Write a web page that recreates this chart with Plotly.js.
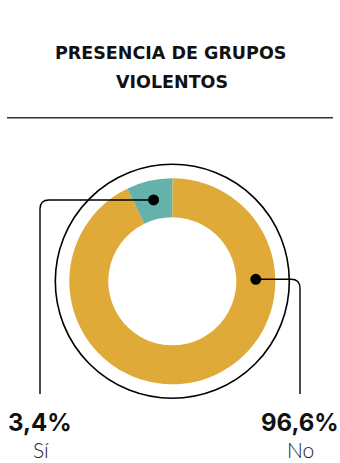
<!DOCTYPE html>
<html>
<head>
<meta charset="utf-8">
<script src="https://cdn.plot.ly/plotly-3.0.1.min.js"></script>
<style>
html,body{margin:0;padding:0;background:#fff;}
#chart{width:340px;height:463px;}
</style>
</head>
<body>
<div id="chart"></div>
<script>
// ---- data ----
const categories = ['Sí', 'No'];
const pctLabels = ['3,4%', '96,6%'];
const sliceShares = [7.2, 92.8];   // slice sizes as drawn in the picture
const sliceColors = ['#64B2AA', '#E0AA38'];
const titleLines = ['PRESENCIA DE GRUPOS', 'VIOLENTOS'];

// ---- layout helpers (pixel -> paper) ----
const W = 340, H = 463;
const px = x => x / W;
const py = y => 1 - y / H;
const cx = 172.3, cy = 281.3, R = 103, RIN = 64, RING = 117;

// dot positions
const total = sliceShares.reduce((a, b) => a + b, 0);
const midA = (sliceShares[0] / total) * Math.PI; // half-angle of first slice (ccw from top)
const rMid = (R + RIN) / 2;
const dot1 = [cx - rMid * Math.sin(midA), cy - rMid * Math.cos(midA)];
const dot2 = [cx + rMid, cy - 2];

function pathPx(cmds) {
  return cmds.map(c => {
    const l = c[0];
    const pts = [];
    for (let i = 1; i < c.length; i += 2) pts.push(px(c[i]).toFixed(5) + ',' + py(c[i + 1]).toFixed(5));
    return l + pts.join(' ');
  }).join(' ');
}

const leftX = 40, rightX = 300, endY = 394, cr = 9;
const shapes = [
  { type: 'line', xref: 'paper', yref: 'paper', x0: px(7), x1: px(333), y0: py(117.7), y1: py(117.7),
    line: { color: '#333333', width: 1.6 } },
  { type: 'circle', xref: 'paper', yref: 'paper', x0: px(cx - RING), x1: px(cx + RING), y0: py(cy + RING), y1: py(cy - RING),
    line: { color: '#000', width: 1.6 } },
  { type: 'path', xref: 'paper', yref: 'paper', line: { color: '#000', width: 1.4 },
    path: pathPx([['M', dot1[0], dot1[1]], ['L', leftX + cr, dot1[1]], ['Q', leftX, dot1[1], leftX, dot1[1] + cr], ['L', leftX, endY]]) },
  { type: 'path', xref: 'paper', yref: 'paper', line: { color: '#000', width: 1.4 },
    path: pathPx([['M', dot2[0], dot2[1]], ['L', rightX - cr, dot2[1]], ['Q', rightX, dot2[1], rightX, dot2[1] + cr], ['L', rightX, endY]]) },
  { type: 'circle', xref: 'paper', yref: 'paper', x0: px(dot1[0] - 5.5), x1: px(dot1[0] + 5.5), y0: py(dot1[1] + 5.5), y1: py(dot1[1] - 5.5),
    fillcolor: '#000', line: { width: 0 } },
  { type: 'circle', xref: 'paper', yref: 'paper', x0: px(dot2[0] - 5.5), x1: px(dot2[0] + 5.5), y0: py(dot2[1] + 5.5), y1: py(dot2[1] - 5.5),
    fillcolor: '#000', line: { width: 0 } }
];

const titleFont = { family: '"DejaVu Sans", sans-serif', size: 17.5, color: '#111', weight: 700 };
const numFont = { family: 'Inter, "Open Sans", sans-serif', size: 24, color: '#111', weight: 700 };
const catFont = { family: 'Lato, Inter, sans-serif', size: 21, color: '#222', weight: 300 };
const annotations = [
  { text: titleLines[0], x: px(170), y: py(53.3), font: titleFont },
  { text: titleLines[1], x: px(171.5), y: py(82), font: titleFont },
  { text: pctLabels[0], x: px(40), y: py(422), font: numFont },
  { text: pctLabels[1], x: px(300), y: py(422), font: numFont },
  { text: categories[0], x: px(41), y: py(449), font: catFont },
  { text: categories[1], x: px(300.5), y: py(449), font: catFont }
].map(a => Object.assign({ xref: 'paper', yref: 'paper', xanchor: 'center', yanchor: 'middle', showarrow: false }, a));

// drawn clockwise from 12 o'clock: "No" first so that "Sí" ends at 12 o'clock (top-left)
const order = [1, 0];
const data = [{
  type: 'pie',
  labels: order.map(i => categories[i]),
  values: order.map(i => sliceShares[i]),
  hole: RIN / R,
  sort: false,
  direction: 'clockwise',
  rotation: 0,
  marker: { colors: order.map(i => sliceColors[i]), line: { width: 0 } },
  textinfo: 'none',
  hoverinfo: 'label+percent',
  showlegend: false,
  domain: { x: [px(cx - R), px(cx + R)], y: [py(cy + R), py(cy - R)] }
}];

const layout = {
  width: W, height: H,
  margin: { l: 0, r: 0, t: 0, b: 0 },
  paper_bgcolor: '#fff',
  showlegend: false,
  shapes: shapes,
  annotations: annotations
};

Plotly.newPlot('chart', data, layout, { displayModeBar: false, staticPlot: true });
</script>
</body>
</html>
